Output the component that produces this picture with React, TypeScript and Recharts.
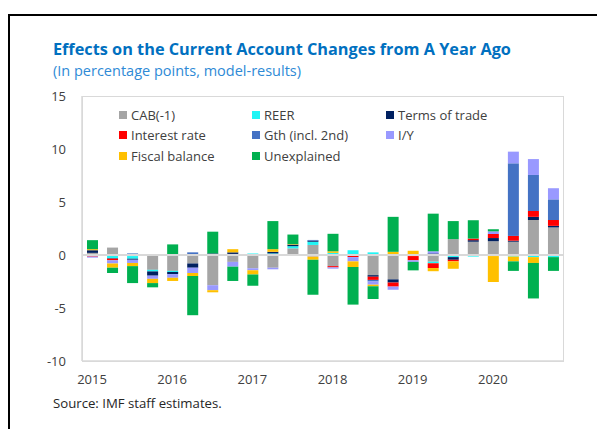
import React from "react";
import { BarChart, Bar, XAxis, YAxis, ReferenceLine } from "recharts";

const quarters = [
  "2015Q1", "2015Q2", "2015Q3", "2015Q4",
  "2016Q1", "2016Q2", "2016Q3", "2016Q4",
  "2017Q1", "2017Q2", "2017Q3", "2017Q4",
  "2018Q1", "2018Q2", "2018Q3", "2018Q4",
  "2019Q1", "2019Q2", "2019Q3", "2019Q4",
  "2020Q1", "2020Q2", "2020Q3", "2020Q4",
];

const cab = [0.2, 0.7, -0.1, -1.4, -1.5, -0.8, -2.85, -0.65, -1.25, -1.2, 0.63, 0.95, -1.05, 0, -1.9, -2.3, 0, -0.63, 1.5, 1.25, 1.3, 1.25, 3.3, 2.6];
const reer = [0, -0.3, -0.25, -0.15, -0.1, 0, 0, 0.1, 0.15, 0.15, 0.2, 0.3, 0.2, 0.45, 0.25, 0, -0.1, -0.15, -0.2, -0.15, -0.1, -0.15, -0.2, -0.2];
const tot = [0.25, -0.05, -0.1, -0.4, -0.2, -0.4, 0.15, 0.15, 0, 0.15, 0.15, 0.1, 0, 0, -0.15, -0.3, 0, 0.15, -0.25, 0.15, 0.3, 0.1, 0.3, 0.15];
const interest = [-0.15, -0.15, 0, 0, 0, 0, 0, 0, 0, 0, 0, 0, -0.12, -0.2, -0.3, -0.38, -0.4, -0.45, -0.15, 0.15, 0.38, 0.45, 0.55, 0.55];
const gth = [0, 0, 0.15, 0, 0, 0.25, 0, 0, 0, 0, 0, 0.07, 0, 0, -0.15, 0, 0, 0, 0, 0, 0, 6.85, 3.4, 1.95];
const iy = [-0.1, -0.3, -0.3, -0.3, -0.35, -0.5, -0.47, -0.45, -0.2, -0.15, 0, -0.15, -0.12, -0.4, -0.3, -0.3, -0.15, 0.2, 0, 0, 0.25, 1.1, 1.5, 1.05];
const fiscal = [0.1, -0.4, -0.3, -0.4, -0.3, -0.28, -0.2, 0.3, -0.4, 0.25, 0.05, -0.3, 0.15, -0.53, -0.15, 0.3, 0.4, -0.3, -0.7, 0, -2.45, -0.45, -0.55, 0];
const unexplained = [0.85, -0.5, -1.6, -0.4, 1.0, -3.7, 2.05, -1.35, -1.05, 2.65, 0.9, -3.3, 1.65, -3.55, -1.2, 3.3, -0.8, 3.55, 1.7, 1.73, 0.2, -0.9, -3.35, -1.3];

const yTicks = [-10, -5, 0, 5, 10, 15];

const SERIES = [
  { key: "cab", name: "CAB(-1)", color: "#A5A5A5", values: cab },
  { key: "reer", name: "REER", color: "#1FF5F5", values: reer },
  { key: "tot", name: "Terms of trade", color: "#002060", values: tot },
  { key: "interest", name: "Interest rate", color: "#FF0000", values: interest },
  { key: "gth", name: "Gth (incl. 2nd)", color: "#4472C4", values: gth },
  { key: "iy", name: "I/Y", color: "#9999FF", values: iy },
  { key: "fiscal", name: "Fiscal balance", color: "#FFC000", values: fiscal },
  { key: "unexplained", name: "Unexplained", color: "#00B050", values: unexplained },
];

const data = quarters.map((q, i) => {
  const row: Record<string, string | number> = { q };
  SERIES.forEach((s) => {
    row[s.key] = s.values[i];
  });
  return row;
});

const FONT = "'Open Sans', 'Noto Sans', sans-serif";

function yearLabel(q: string) {
  return q.endsWith("Q1") ? q.slice(0, 4) : "";
}

function ChartLegend() {
  const cols = [119, 252, 386];
  const rows = [115, 135, 156];
  return (
    <>
      {SERIES.map((s, i) => (
        <div
          key={s.key}
          style={{
            position: "absolute",
            left: cols[i % 3],
            top: rows[Math.floor(i / 3)] - 9,
            height: 18,
            display: "flex",
            alignItems: "center",
            fontSize: 13,
            color: "#404040",
            whiteSpace: "nowrap",
          }}
        >
          <span style={{ width: 8, height: 8, background: s.color, marginRight: 4 }} />
          {s.name}
        </div>
      ))}
    </>
  );
}

export default function App() {
  return (
    <div
      style={{
        position: "absolute",
        left: 0,
        top: 0,
        width: 597,
        height: 429,
        overflow: "hidden",
        background: "#fff",
        fontFamily: FONT,
      }}
    >
      <div
        style={{
          position: "absolute",
          left: 8,
          top: 14,
          width: 620,
          height: 440,
          borderLeft: "2px solid #000",
          borderTop: "2px solid #000",
        }}
      />
      <div
        style={{
          position: "absolute",
          left: 53,
          top: 38,
          fontSize: 16.3,
          fontWeight: 700,
          color: "#0070C0",
          whiteSpace: "nowrap",
        }}
      >
        Effects on the Current Account Changes from A Year Ago
      </div>
      <div
        style={{
          position: "absolute",
          left: 53,
          top: 61,
          fontSize: 14.5,
          color: "#2E8AD6",
          whiteSpace: "nowrap",
        }}
      >
        (In percentage points, model-results)
      </div>
      <div
        style={{
          position: "absolute",
          left: 82,
          top: 96,
          width: 480,
          height: 264,
          border: "1px solid #D9D9D9",
        }}
      />
      <div style={{ position: "absolute", left: 0, top: 0 }}>
        <BarChart
          width={597}
          height={429}
          data={data}
          stackOffset="sign"
          margin={{ top: 96, right: 34, bottom: 0, left: 0 }}
          barSize={11}
        >
          <XAxis
            dataKey="q"
            interval={0}
            tickFormatter={yearLabel}
            tickLine={false}
            tickSize={0}
            tickMargin={14}
            height={68}
            axisLine={{ stroke: "#D9D9D9", strokeWidth: 1.5 }}
            tick={{ fontSize: 13, fill: "#404040", fontFamily: FONT }}
          />
          <YAxis
            domain={[-10, 15]}
            ticks={yTicks}
            width={82}
            tickLine={false}
            tickSize={0}
            tickMargin={16}
            axisLine={{ stroke: "#D9D9D9", strokeWidth: 1.5 }}
            tick={{ fontSize: 13, fill: "#404040", fontFamily: FONT }}
          />
          <ReferenceLine y={0} stroke="#D9D9D9" strokeWidth={2} />
          {SERIES.map((s) => (
            <Bar
              key={s.key}
              dataKey={s.key}
              name={s.name}
              stackId="a"
              fill={s.color}
              isAnimationActive={false}
            />
          ))}
        </BarChart>
      </div>
      <ChartLegend />
      <div
        style={{
          position: "absolute",
          left: 53,
          top: 394,
          fontSize: 13.2,
          color: "#262626",
          whiteSpace: "nowrap",
        }}
      >
        Source: IMF staff estimates.
      </div>
    </div>
  );
}
